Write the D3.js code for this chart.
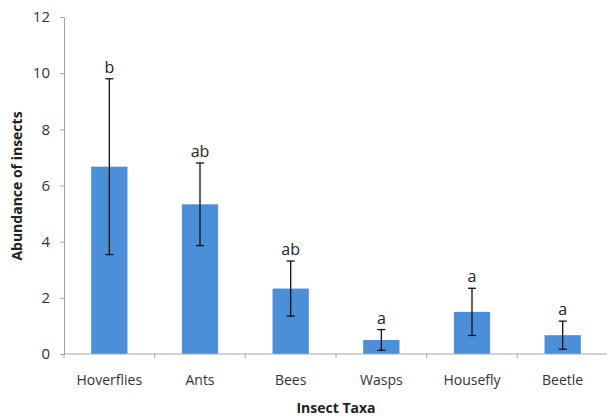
<!DOCTYPE html>
<html><head><meta charset="utf-8">
<script src="https://cdn.jsdelivr.net/npm/d3@7"></script>
<style>body{margin:0;background:#fff}</style>
</head><body>
<svg id="c" width="607" height="420"></svg>
<script>
const categories = ["Hoverflies","Ants","Bees","Wasps","Housefly","Beetle"];
const means = [6.67, 5.33, 2.33, 0.5, 1.5, 0.67];
const errors = [3.13, 1.47, 0.98, 0.37, 0.84, 0.5];
const letters = ["b","ab","ab","a","a","a"];
const yTicks = [0,2,4,6,8,10,12];

const svg = d3.select("#c");
const m = {l:64, r:0, t:17, b:66};
const x = d3.scaleBand().domain(categories).range([m.l, 608]).paddingInner(0.6).paddingOuter(0.3);
const y = d3.scaleLinear().domain([0,12]).range([354, 17]);
const font = "'Open Sans', sans-serif";

// y axis
const ya = svg.append("g").attr("transform",`translate(${m.l},0)`)
  .call(d3.axisLeft(y).tickValues(yTicks).tickSize(4).tickPadding(10));
ya.select(".domain").attr("stroke","#a6a6a6");
ya.selectAll(".tick line").attr("stroke","#a6a6a6");
ya.selectAll(".tick text").attr("font-family",font).attr("font-size",15).attr("fill","#333");

// bars
svg.append("g").selectAll("rect").data(categories).join("rect")
  .attr("x", d=>x(d)).attr("width", x.bandwidth())
  .attr("y", (d,i)=>y(means[i])).attr("height",(d,i)=>y(0)-y(means[i]))
  .attr("fill","#4a8fd8");

// x axis (category boundary ticks)
const xa = svg.append("g").attr("transform",`translate(0,${y(0)})`);
xa.append("line").attr("x1",m.l).attr("x2",608).attr("stroke","#a6a6a6");
const boundaries = d3.range(categories.length+1).map(i=>m.l + i*(608-m.l)/categories.length);
xa.selectAll("line.t").data(boundaries).join("line").attr("class","t")
  .attr("x1",d=>d).attr("x2",d=>d).attr("y1",0).attr("y2",4).attr("stroke","#a6a6a6");
xa.selectAll("text").data(categories).join("text")
  .attr("x",d=>x(d)+x.bandwidth()/2).attr("y",31)
  .attr("text-anchor","middle").attr("font-family",font).attr("font-size",14).attr("fill","#333")
  .text(d=>d);

// error bars
const eg = svg.append("g").attr("stroke","#111").attr("stroke-width",1.3);
categories.forEach((c,i)=>{
  const cx = x(c)+x.bandwidth()/2;
  const t = y(means[i]+errors[i]), b = y(means[i]-errors[i]);
  eg.append("line").attr("x1",cx).attr("x2",cx).attr("y1",t).attr("y2",b);
  eg.append("line").attr("x1",cx-4).attr("x2",cx+4).attr("y1",t).attr("y2",t);
  eg.append("line").attr("x1",cx-4).attr("x2",cx+4).attr("y1",b).attr("y2",b);
});

// letters
svg.append("g").selectAll("text").data(categories).join("text")
  .attr("x",d=>x(d)+x.bandwidth()/2)
  .attr("y",(d,i)=>y(means[i]+errors[i])-6)
  .attr("text-anchor","middle").attr("font-family",font).attr("font-size",16).attr("fill","#222")
  .text((d,i)=>letters[i]);

// axis titles
svg.append("text").attr("transform","translate(22,186) rotate(-90)")
  .attr("text-anchor","middle").attr("font-family",font).attr("font-size",14).attr("font-weight","bold").attr("fill","#222")
  .text("Abundance of insects");
svg.append("text").attr("x",336).attr("y",413)
  .attr("text-anchor","middle").attr("font-family",font).attr("font-size",14).attr("font-weight","bold").attr("fill","#222")
  .text("Insect Taxa");
</script>
</body></html>
